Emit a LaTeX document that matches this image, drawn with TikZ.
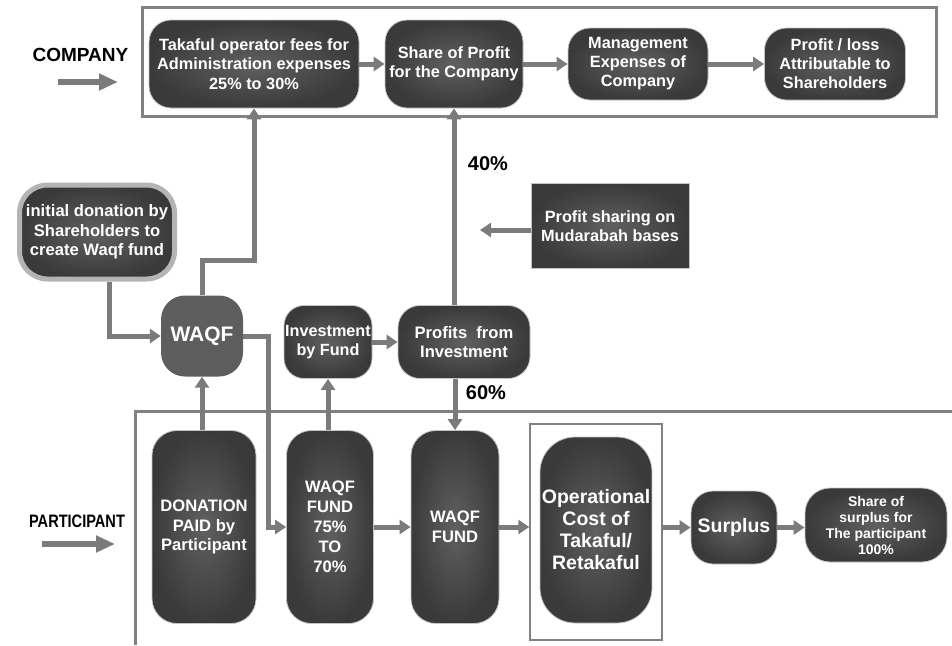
\documentclass[tikz,border=0pt]{standalone}
\usepackage{fontspec}
\setmainfont{Liberation Sans}
\usetikzlibrary{arrows.meta,calc}
\definecolor{conn}{HTML}{7B7B7B}
\definecolor{frm}{HTML}{818181}
\definecolor{boxin}{HTML}{606060}
\definecolor{boxout}{HTML}{3A3A3A}
\definecolor{waqfc}{HTML}{5E5E5E}
\definecolor{edgec}{HTML}{C4C4C4}
\definecolor{initedge}{HTML}{B4B4B4}
\tikzset{
  fs/.style 2 args={font=\bfseries\fontsize{#1}{#2}\selectfont},
  tex/.style={draw=edgec, line width=0.8pt, inner color=boxin, outer color=boxout,
    text=white, align=center, inner sep=0pt},
  conn/.style={draw=conn, line width=5pt, -{Triangle[length=11pt,width=14pt]}},
  bigarrow/.style={draw=conn, line width=6pt, -{Triangle[length=19pt,width=16pt]}},
  framebox/.style={draw=frm, line width=3pt},
  lbl/.style={text=black, inner sep=0pt}
}
\begin{document}
\begin{tikzpicture}[x=1pt,y=-1pt]
\useasboundingbox[fill=white] (0,0) rectangle (952,645);

% frames
\draw[framebox] (142,7) rectangle (936,116);
\draw[framebox] (952,411) -- (135,411) -- (135,645);

% company row
\node[tex, rounded corners=22pt, minimum width=210pt, minimum height=88pt, fs={16.3}{19.5}] (tak) at (254,64)
  {Takaful operator fees for\\Administration expenses\\25\% to 30\%};
\node[tex, rounded corners=22pt, minimum width=138pt, minimum height=88pt, fs={16.3}{19.5}] (share) at (454,64)
  {Share of Profit\\for the Company};
\node[tex, rounded corners=22pt, minimum width=140pt, minimum height=72pt, fs={16.3}{19}] (mgmt) at (638,64)
  {Management\\Expenses of\\Company};
\node[tex, rounded corners=22pt, minimum width=141pt, minimum height=72pt, fs={16.3}{19}] (pl) at (835,64)
  {Profit / loss\\Attributable to\\Shareholders};

% middle
\node[tex, rounded corners=0pt, minimum width=158pt, minimum height=85pt, fs={16.3}{19}] (ps) at (610,226)
  {Profit sharing on\\Mudarabah bases};
\node[tex, draw=initedge, line width=5pt, rounded corners=28pt, minimum width=155pt, minimum height=94pt, fs={16.6}{19.5}] (init) at (97,232)
  {initial donation by\\Shareholders to\\create Waqf fund};
\node[fill=waqfc, text=white, inner sep=0pt, rounded corners=24pt,
  minimum width=82pt, minimum height=81pt, fs={21}{22}] (waqf) at (202,336) {WAQF};
\node[tex, rounded corners=20pt, minimum width=88pt, minimum height=73pt, fs={16.2}{19}] (inv) at (328,342)
  {Investment\\by Fund};
\node[tex, rounded corners=22pt, minimum width=132pt, minimum height=73pt, fs={16.6}{19.5}] (pfi) at (464,342)
  {Profits\ \ from\\Investment};

% participant row
\node[tex, rounded corners=25pt, minimum width=104pt, minimum height=193pt, fs={16.6}{19.5}] (don) at (204,527)
  {DONATION\\PAID by\\Participant};
\node[tex, rounded corners=25pt, minimum width=87pt, minimum height=193pt, fs={16.6}{20}] (w75) at (330,527)
  {WAQF\\FUND\\75\%\\TO\\70\%};
\node[tex, rounded corners=25pt, minimum width=88pt, minimum height=193pt, fs={16.6}{19.5}] (wf) at (455,527)
  {WAQF\\FUND};
\node[draw=frm, line width=1.5pt, minimum width=132pt, minimum height=216pt, inner sep=0pt] (opf) at (596,532) {};
\node[tex, rounded corners=35pt, minimum width=112pt, minimum height=186pt, fs={19.5}{22}] (op) at (596,530)
  {Operational\\Cost of\\Takaful/\\Retakaful};
\node[tex, rounded corners=22pt, minimum width=86pt, minimum height=73pt, fs={19.5}{22}] (sur) at (734,527.5)
  {Surplus};
\node[tex, rounded corners=25pt, minimum width=142pt, minimum height=74pt, fs={14}{16}] (sos) at (876,525)
  {Share of\\surplus for\\The participant\\100\%};

% labels
\node[lbl, fs={19}{20}] (lc) at (80.5,55) {COMPANY};
\node[lbl, fs={20}{22}] (l40) at (488,164) {40\%};
\node[lbl, fs={20}{22}] (l60) at (486,393) {60\%};
\node[lbl, fs={18}{20}] (lp) at (77,521) {\scalebox{0.81}[1]{PARTICIPANT}};

% helper coordinates
\coordinate (c1) at (58,82);
\coordinate (c2) at (118,82);
\coordinate (p1) at (42,544);
\coordinate (p2) at (115,544);
\coordinate (psend) at (480,230);
\coordinate (j260) at (0,260);
\coordinate (jx) at (109,0);
\coordinate (jw) at (268,0);

% connectors
\draw[bigarrow] (c1) -- (c2);
\draw[bigarrow] (p1) -- (p2);
\draw[conn] (tak.east) -- (share.west);
\draw[conn] (share.east) -- (mgmt.west);
\draw[conn] (mgmt.east) -- (pl.west);
\draw[conn] (ps.west |- psend) -- (psend);
\draw[conn] (pfi.north -| share.south) -- (share.south);
\draw[conn] (waqf.north) -- (waqf.north |- j260) -| (tak.south);
\draw[conn] (init.south -| jx) |- (waqf.west);
\draw[conn] (waqf.east) -- (waqf.east -| jw) |- (w75.west);
\draw[conn] (inv.east) -- (pfi.west);
\draw[conn] (don.north -| waqf.south) -- (waqf.south);
\draw[conn] (w75.north -| inv.south) -- (inv.south);
\draw[conn] (pfi.south -| wf.north) -- (wf.north);
\draw[conn] (w75.east) -- (wf.west);
\draw[conn] (wf.east) -- (opf.west |- wf.east);
\draw[conn] (opf.east |- sur.west) -- (sur.west);
\draw[conn] (sur.east) -- (sos.west |- sur.east);
\end{tikzpicture}
\end{document}
